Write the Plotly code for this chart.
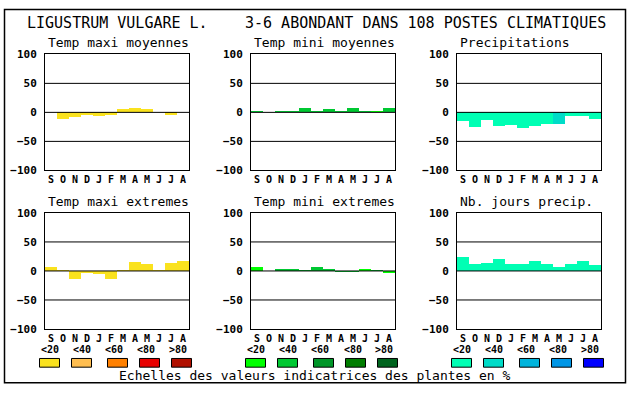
import plotly.graph_objects as go

W, H = 630, 394

months = ["S", "O", "N", "D", "J", "F", "M", "A", "M", "J", "J", "A"]
y_ticks = [-100, -50, 0, 50, 100]

# values (%) and colour class (0..4) per month
temp_maxi_moy = [0, -11, -8, -4, -6, -4, 5, 7, 5, 0, -4, 0]
temp_maxi_moy_cls = [0] * 12
temp_mini_moy = [2, 0, 2, 3, 7, 3, 5, 2, 7, 2, 3, 7]
temp_mini_moy_cls = [1, 1, 1, 1, 1, 1, 1, 1, 1, 1, 0, 1]
precip = [-15, -25, -14, -23, -22, -27, -24, -20, -20, -7, -6, -12]
precip_cls = [0, 0, 0, 0, 0, 0, 0, 0, 1, 0, 0, 0]
temp_maxi_ext = [6, 2, -14, -4, -6, -14, 2, 16, 12, 2, 14, 17]
temp_maxi_ext_cls = [0] * 12
temp_mini_ext = [6, 0, 4, 4, 2, 6, 4, -2, -2, 4, 2, -4]
temp_mini_ext_cls = [0, 1, 1, 1, 1, 1, 1, 1, 1, 0, 1, 0]
nb_jours = [24, 12, 14, 21, 12, 12, 17, 12, 7, 12, 17, 11]
nb_jours_cls = [0] * 12

scale_labels = ["<20", "<40", "<60", "<80", ">80"]
yellow_scale = ["rgb(250,226,30)", "rgb(255,190,80)", "rgb(255,128,0)", "rgb(232,0,0)", "rgb(176,16,0)"]
green_scale = ["rgb(0,255,0)", "rgb(0,200,50)", "rgb(0,150,40)", "rgb(0,125,0)", "rgb(0,100,30)"]
blue_scale = ["rgb(0,255,180)", "rgb(0,220,200)", "rgb(0,180,220)", "rgb(0,150,230)", "rgb(0,0,255)"]

main_title_left = "LIGUSTRUM VULGARE L."
main_title_right = "3-6 ABONDANT DANS 108 POSTES CLIMATIQUES"
footer = "Echelles des valeurs indicatrices des plantes en %"

panels = [
    ("Temp maxi moyennes", temp_maxi_moy, temp_maxi_moy_cls, yellow_scale),
    ("Temp mini moyennes", temp_mini_moy, temp_mini_moy_cls, green_scale),
    ("Precipitations", precip, precip_cls, blue_scale),
    ("Temp maxi extremes", temp_maxi_ext, temp_maxi_ext_cls, yellow_scale),
    ("Temp mini extremes", temp_mini_ext, temp_mini_ext_cls, green_scale),
    ("Nb. jours precip.", nb_jours, nb_jours_cls, blue_scale),
]

MONO = "DejaVu Sans Mono"
col_left = [45, 251, 457]
row_top = [50, 214]
PW, PH = 144, 120


def px(x):
    return x / W


def py(y):
    return 1 - y / H


fig = go.Figure()
layout = dict(
    width=W, height=H, margin=dict(l=0, r=0, t=0, b=0),
    paper_bgcolor="white", plot_bgcolor="white", showlegend=False,
    bargap=0,
)
shapes = []
annotations = []

for i, (title, vals, cls, pal) in enumerate(panels):
    r, c = divmod(i, 3)
    n = i + 1
    xa = "x" if n == 1 else f"x{n}"
    ya = "y" if n == 1 else f"y{n}"
    xk = "xaxis" if n == 1 else f"xaxis{n}"
    yk = "yaxis" if n == 1 else f"yaxis{n}"
    left = col_left[c]
    top = row_top[r]
    fig.add_trace(go.Bar(
        x=list(range(12)), y=vals, xaxis=xa, yaxis=ya,
        marker=dict(color=[pal[k] for k in cls], line=dict(width=0)),
        width=1.0,
    ))
    layout[xk] = dict(
        domain=[px(left), px(left + PW)], anchor=ya, range=[-0.5, 11.5],
        tickvals=list(range(12)), ticktext=months, showgrid=False, zeroline=False,
        showline=True, linecolor="black", linewidth=1, mirror=True, ticks="",
        ticklabelstandoff=0,
        tickfont=dict(family=MONO, size=10, color="black", weight="bold"),
        fixedrange=True,
    )
    layout[yk] = dict(
        domain=[py(top + PH), py(top)], anchor=xa, range=[-100, 100],
        tickvals=y_ticks, showgrid=False, zeroline=False,
        showline=True, linecolor="black", linewidth=1, mirror=True, ticks="",
        ticklabelstandoff=5,
        tickfont=dict(family=MONO, size=11, color="black", weight="bold"),
        fixedrange=True,
    )
    for gv in (-50, 0, 50):
        shapes.append(dict(type="line", xref=f"{xa} domain", yref=ya, x0=0, x1=1,
                           y0=gv, y1=gv, line=dict(color="black", width=1), layer="above"))
    annotations.append(dict(
        text=title, xref="paper", yref="paper", x=px(left + 1), y=py(top - 12),
        xanchor="left", yanchor="middle", showarrow=False,
        font=dict(family=MONO, size=13, color="black"),
    ))

# main title
annotations.append(dict(text=main_title_left, xref="paper", yref="paper", x=px(25), y=py(18),
                        xanchor="left", yanchor="middle", showarrow=False,
                        font=dict(family=MONO, size=15, color="black")))
annotations.append(dict(text=main_title_right, xref="paper", yref="paper", x=px(243), y=py(18),
                        xanchor="left", yanchor="middle", showarrow=False,
                        font=dict(family=MONO, size=15, color="black")))

# legend scales
label_left = [[39, 71, 103, 135, 167], [245, 277, 309, 342, 373], [451, 483, 515, 547, 579]]
box_left = [[39, 71, 107, 139, 171], [245, 277, 313, 345, 377], [451, 483, 519, 551, 583]]
for g, pal in enumerate([yellow_scale, green_scale, blue_scale]):
    for k in range(5):
        annotations.append(dict(text=scale_labels[k], xref="paper", yref="paper",
                                x=px(label_left[g][k]), y=py(355), xanchor="left", yanchor="middle",
                                showarrow=False,
                                font=dict(family=MONO, size=10, color="black", weight="bold")))
        bl = box_left[g][k]
        shapes.append(dict(type="rect", xref="paper", yref="paper",
                           x0=px(bl + 0.5), x1=px(bl + 20.5), y0=py(373.5), y1=py(364.5),
                           fillcolor=pal[k], line=dict(color="black", width=1), layer="above"))

annotations.append(dict(text=footer, xref="paper", yref="paper", x=px(314.5), y=py(382),
                        xanchor="center", yanchor="middle", showarrow=False,
                        font=dict(family=MONO, size=13, color="black")))

# outer frame
shapes.append(dict(type="rect", xref="paper", yref="paper",
                   x0=px(4.5), x1=px(625.5), y0=py(389.5), y1=py(3.5),
                   line=dict(color="black", width=1.5), fillcolor="rgba(0,0,0,0)", layer="above"))

layout["shapes"] = shapes
layout["annotations"] = annotations
fig.update_layout(**layout)
fig.write_html(
    "out.html",
    config={"displayModeBar": False, "staticPlot": True},
    post_script=(
        "document.documentElement.style.margin='0';"
        "document.documentElement.style.padding='0';"
        "document.documentElement.style.overflow='hidden';"
        "document.body.style.margin='0';"
        "document.body.style.padding='0';"
        "document.body.style.overflow='hidden';"
    ),
)
